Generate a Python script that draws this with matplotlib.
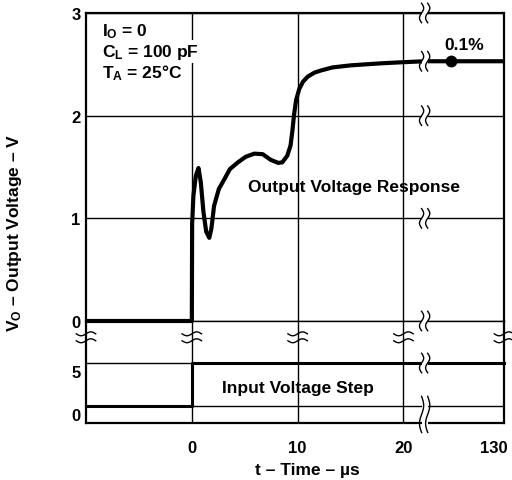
import numpy as np
import matplotlib
matplotlib.use("Agg")
import matplotlib.pyplot as plt
import matplotlib.transforms as mtransforms
import matplotlib.patches as mpatches

## Fonts: bold Helvetica look
plt.rcParams['font.family'] = ['Liberation Sans', 'DejaVu Sans']
plt.rcParams['font.weight'] = 'bold'
plt.rcParams['mathtext.fontset'] = 'custom'
plt.rcParams['mathtext.rm'] = 'Liberation Sans:bold'
plt.rcParams['mathtext.it'] = 'Liberation Sans:bold'
plt.rcParams['mathtext.bf'] = 'Liberation Sans:bold'

## Data (time in us, voltage in V)
t_out = [-10, 0, 0.03, 0.15, 0.38, 0.63, 0.85, 1.1, 1.36, 1.65, 1.85, 2.1, 2.55,
         3.07, 3.6, 4.35, 5.1, 5.9, 6.7, 7.45, 8.16, 8.55, 9.02, 9.33, 9.5, 9.65,
         9.85, 10.15, 10.5, 10.95, 11.6, 12.2, 13.3, 15.0, 17.9, 19.8, 122.5, 130]
v_out = [0, 0, 0.95, 1.22, 1.415, 1.49, 1.35, 1.06, 0.87, 0.81, 0.9, 1.12, 1.285,
         1.38, 1.48, 1.545, 1.60, 1.63, 1.625, 1.57, 1.54, 1.545, 1.61, 1.71, 1.85, 2.0,
         2.15, 2.26, 2.33, 2.38, 2.42, 2.44, 2.47, 2.49, 2.51, 2.52, 2.53, 2.53]
t_in = [-10, 0, 0, 130]
v_in = [0, 0, 5, 5]
t_mark = [125]
v_mark = [2.53]

x_ticks = [0, 10, 20, 130]
y_ticks_hi = [0, 1, 2, 3]
y_ticks_lo = [0, 5]

## broken time axis: 22 -> 122.5 is cut out
BRK = 22.0
GAP = 100.5
def fwd(x):
    x = np.asarray(x, dtype=float)
    return np.where(x <= BRK, x, np.where(x >= BRK + GAP, x - GAP, BRK))
def inv(u):
    u = np.asarray(u, dtype=float)
    return np.where(u <= BRK, u, u + GAP)

fig = plt.figure(figsize=(5.12, 4.81), dpi=100)
ax_hi = fig.add_axes([86/512, 1-322/481, 418/512, 308/481])
ax_lo = fig.add_axes([86/512, 1-424/481, 418/512, 102/481], sharex=ax_hi)
ax_lo.patch.set_visible(False)
ax_hi.set_xscale('function', functions=(fwd, inv))
ax_hi.set_xlim(-10, 130)
ax_hi.set_ylim(0, 3)
ax_lo.set_ylim(-2, 9.9)

for ax in (ax_hi, ax_lo):
    ax.set_xticks(x_ticks)
    ax.grid(True, color='black', linewidth=1.0)
    ax.set_axisbelow(True)
    ax.tick_params(length=0, labelsize=12)
    ax.tick_params(axis='x', pad=12)
    ax.tick_params(axis='y', pad=4)
    for sp in ax.spines.values():
        sp.set_linewidth(1.6)
ax_hi.set_yticks(y_ticks_hi)
ax_lo.set_yticks(y_ticks_lo)
ax_hi.tick_params(axis='x', labelbottom=False)
ax_hi.spines['bottom'].set_linewidth(1.0)
ax_lo.spines['top'].set_visible(False)

## lower labels sit a little below their lines
for lab in ax_lo.get_yticklabels():
    lab.set_transform(lab.get_transform() + mtransforms.ScaledTranslation(0, -6/72, fig.dpi_scale_trans))
lab130 = ax_lo.get_xticklabels()[-1]
lab130.set_transform(lab130.get_transform() + mtransforms.ScaledTranslation(-7/72, 0, fig.dpi_scale_trans))

## traces
ax_hi.plot(t_out, v_out, color='black', linewidth=3, solid_joinstyle='round',
           solid_capstyle='butt', zorder=3, clip_on=False)
ax_hi.plot(t_mark, v_mark, 'o', color='black', markersize=7.5, zorder=4)
ax_lo.plot(t_in, v_in, color='black', linewidth=2.2, zorder=3, clip_on=False)

## break marks
def pt_trans(ax, x, y):
    return mtransforms.Affine2D().scale(fig.dpi/72) + mtransforms.ScaledTranslation(x, y, ax.transData)

def vbreak(ax, x, y, h=7.0):
    # break on a horizontal line: two S shaped strokes with a gap
    tr = pt_trans(ax, x, y)
    ax.add_patch(mpatches.Rectangle((-2.2, -h), 4.4, 2*h, transform=tr, facecolor='white',
                                    edgecolor='none', zorder=5, clip_on=False))
    s = np.linspace(-1, 1, 40)
    for dx in (-2.2, 2.2):
        ax.plot(dx + 1.5*np.sin(np.pi*s), h*s, color='black', linewidth=1.0,
                transform=tr, zorder=6, clip_on=False)

def hbreak(ax, x, y):
    # break on a vertical line: two tilde strokes
    tr = pt_trans(ax, x, y)
    s = np.linspace(-1, 1, 40)
    for dy in (-2.5, 2.5):
        ax.plot(7*s, dy + 1.4*np.sin(np.pi*s), color='black', linewidth=1.0,
                transform=tr, zorder=6, clip_on=False)

for yv in [3, 2.53, 2, 1]:
    vbreak(ax_hi, BRK, yv)
vbreak(ax_lo, BRK, 9.9)
vbreak(ax_lo, BRK, 5)
vbreak(ax_lo, BRK, -1, h=13)
for xv in [-10, 0, 10, 20, 130]:
    hbreak(ax_lo, xv, 8.0)

## annotations
box = dict(facecolor='white', edgecolor='none', pad=1.5)
ax_hi.text(0.038, 0.929, r'$\mathrm{I_O}$ = 0', transform=ax_hi.transAxes, fontsize=12.5,
           bbox=box, zorder=4)
ax_hi.text(0.038, 0.860, r'$\mathrm{C_L}$ = 100 pF', transform=ax_hi.transAxes, fontsize=12.5,
           bbox=box, zorder=4)
ax_hi.text(0.038, 0.792, r'$\mathrm{T_A}$ = 25°C', transform=ax_hi.transAxes, fontsize=12.5,
           bbox=box, zorder=4)
ax_hi.text(0.641, 0.422, 'Output Voltage Response', transform=ax_hi.transAxes,
           fontsize=12.5, ha='center', va='baseline')
ax_hi.text(0.904, 0.883, '0.1%', transform=ax_hi.transAxes, fontsize=12.5,
           ha='center', va='baseline')
ax_lo.text(0.507, 0.304, 'Input Voltage Step', transform=ax_lo.transAxes,
           fontsize=12.5, ha='center', va='baseline')

fig.text(0.029, 0.515, r'$\mathrm{V_O}$ – Output Voltage – V', rotation=90,
         ha='center', va='center', fontsize=12.5)
fig.text(307/512, 1-471/481, 't – Time – µs', ha='center', va='center', fontsize=12.5)

fig.savefig('out.png', dpi=100)
